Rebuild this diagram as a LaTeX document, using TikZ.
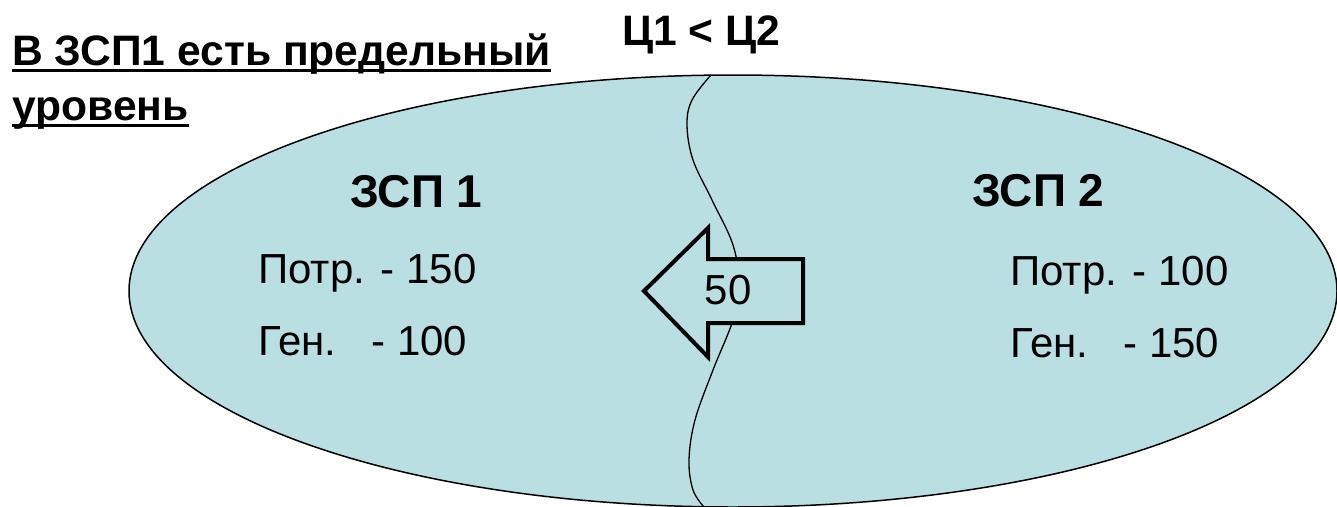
\documentclass[tikz,border=0pt]{standalone}
\usepackage{fontspec}
\setmainfont{Liberation Sans}
\definecolor{zonefill}{RGB}{185,223,227}
\begin{document}
\begin{tikzpicture}[x=1pt,y=-1pt,
  txt/.style={inner sep=0pt,anchor=base west,font=\fontsize{42}{50}\selectfont},
  btxt/.style={inner sep=0pt,anchor=base west,font=\fontsize{42.6}{50}\selectfont\bfseries},
  head/.style={inner sep=0pt,anchor=base west,font=\fontsize{46}{54}\selectfont\bfseries},
  ul/.style={line width=3pt}]
\useasboundingbox (0,0) rectangle (1337,506);
\begin{scope}
\clip (0,0) rectangle (1337,506);
\draw[fill=zonefill,line width=1.5pt] (733,291) ellipse [x radius=604, y radius=216];
\draw[line width=1.3pt] plot[smooth,tension=0.6] coordinates {(711,75) (692,100) (687,125) (693,160) (712,200) (733,245) (739,285) (733,320) (713,370) (695,420) (689,460) (693,490) (704,507)};
\end{scope}
\draw[fill=zonefill,line width=4pt,line join=miter] (644,291) -- (708,228) -- (708,259) -- (803,259) -- (803,323) -- (708,323) -- (708,357) -- cycle;
\node[txt,anchor=center] (flow) at (728,290) {50};
\node[btxt] (t1) at (12,65) {В ЗСП1 есть предельный};
\node[btxt] (t2) at (12,120) {уровень};
\draw[ul] ([yshift=-5pt]t1.base west) -- ([yshift=-5pt]t1.base east);
\draw[ul] ([yshift=-5pt]t2.base west) -- ([yshift=-5pt]t2.base east);
\node[btxt] (price) at (622,45) {Ц1 < Ц2};
\node[head] (z1) at (350,207) {ЗСП 1};
\node[txt] (p1) at (258,283) {Потр. - 150};
\node[txt] (g1) at (258,355) {Ген.\ \ \ - 100};
\node[head] (z2) at (972,206) {ЗСП 2};
\node[txt] (p2) at (1010,285) {Потр. - 100};
\node[txt] (g2) at (1010,357) {Ген.\ \ \ - 150};
\end{tikzpicture}
\end{document}
